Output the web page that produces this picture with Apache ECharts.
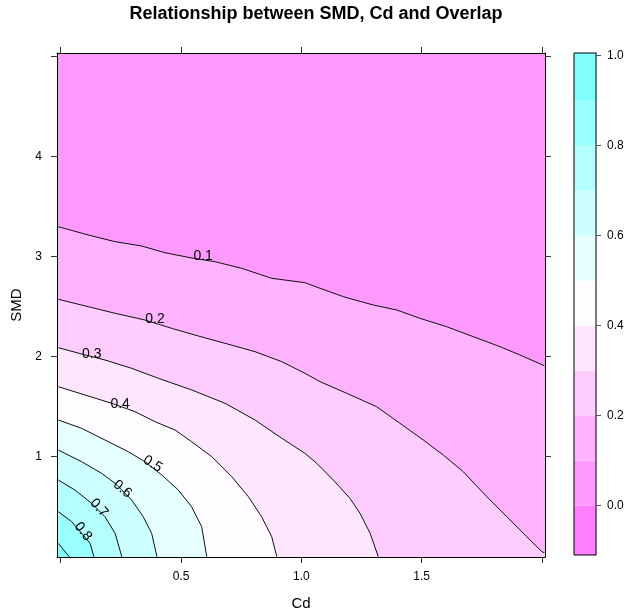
<!DOCTYPE html>
<html><head><meta charset="utf-8">
<script src="https://cdn.jsdelivr.net/npm/echarts@6/dist/echarts.min.js"></script>
<style>html,body{margin:0;padding:0;background:#fff}#c{width:625px;height:615px}</style>
</head><body><div id="c"></div>
<script>
// ---- data ----
const levels = [0.1, 0.2, 0.3, 0.4, 0.5, 0.6, 0.7, 0.8, 0.9];
const levelLabels = ['0.1', '0.2', '0.3', '0.4', '0.5', '0.6', '0.7', '0.8'];
// contour lines as [Cd, SMD] points
const contour01 = [[-0.01,3.30],[0.115,3.217],[0.226,3.15],[0.337,3.107],[0.433,3.04],[0.551,2.984],[0.641,2.95],[0.752,2.884],[0.877,2.784],[1.015,2.74],[1.078,2.684],[1.175,2.60],[1.299,2.517],[1.397,2.467],[1.493,2.384],[1.604,2.30],[1.715,2.20],[1.826,2.10],[1.909,2.017],[2.01,1.91]];
const contour02 = [[-0.01,2.574],[0.115,2.50],[0.226,2.434],[0.35,2.367],[0.461,2.284],[0.572,2.207],[0.683,2.134],[0.808,2.05],[0.919,1.95],[1.015,1.834],[1.078,1.75],[1.189,1.634],[1.313,1.50],[1.41,1.334],[1.507,1.167],[1.59,1.017],[1.673,0.85],[1.771,0.60],[1.854,0.40],[1.937,0.20],[2.0,0.05],[2.01,0.04]];
const contour03 = [[-0.01,2.09],[0.087,2.027],[0.184,1.967],[0.295,1.884],[0.406,1.784],[0.545,1.667],[0.683,1.534],[0.808,1.367],[0.919,1.184],[1.015,1.034],[1.064,0.934],[1.133,0.767],[1.202,0.584],[1.244,0.434],[1.286,0.234],[1.32,0]];
const contour04 = [[-0.01,1.70],[0.101,1.617],[0.212,1.534],[0.309,1.45],[0.392,1.35],[0.475,1.267],[0.544,1.15],[0.628,1.00],[0.711,0.80],[0.78,0.60],[0.835,0.40],[0.877,0.20],[0.898,0]];
const contour05 = [[-0.01,1.367],[0.087,1.284],[0.184,1.167],[0.281,1.05],[0.35,0.95],[0.42,0.817],[0.489,0.667],[0.544,0.50],[0.586,0.30],[0.607,0]];
const contour06 = [[-0.01,1.067],[0.087,0.95],[0.17,0.834],[0.226,0.734],[0.295,0.567],[0.343,0.40],[0.378,0.234],[0.40,0]];
const contour07 = [[-0.01,0.767],[0.059,0.667],[0.129,0.534],[0.184,0.40],[0.226,0.234],[0.254,0]];
const contour08 = [[-0.01,0.45],[0.046,0.35],[0.087,0.234],[0.122,0.134],[0.138,0]];
const contour09 = [[-0.01,0.134],[0.035,0]];
const contours = [contour01, contour02, contour03, contour04, contour05, contour06, contour07, contour08, contour09];
// contour label centres [Cd, SMD] and angle (degrees)
const labelPos = [[0.592,3.007],[0.392,2.377],[0.129,2.027],[0.247,1.527],[0.382,0.927],[0.257,0.677],[0.159,0.487],[0.093,0.252]];
const labelAngle = [0, 0, 0, 0, -32, -40, -48, -52];
// colour key bands
const bandLows = [-0.1, 0.0, 0.1, 0.2, 0.3, 0.4, 0.5, 0.6, 0.7, 0.8, 0.9];
const bandColors = ['#FF80FF','#FF99FF','#FFB3FF','#FFCCFF','#FFE6FF','#FFFCFF','#E6FFFF','#CCFFFF','#B3FFFF','#99FFFF','#80FFFF'];
// ticks
const xTicks = [0, 0.5, 1.0, 1.5, 2.0];
const xTickLabels = [0.5, 1.0, 1.5];
const yTicks = [1, 2, 3, 4, 5];
const yTickLabels = [1, 2, 3, 4];
const keyTicks = [0.0, 0.2, 0.4, 0.6, 0.8, 1.0];

// ---- chart ----
const FONT = "'Liberation Sans', Arial, sans-serif";
const X_MIN = -0.0154, X_MAX = 2.0129, Y_MIN = -0.003, Y_MAX = 5.037;
const K_MIN = -0.1096, K_MAX = 1.006;

function bandColorFor(v) {
  const idx = Math.round((v + 0.1) * 10);
  return bandColors[Math.max(0, Math.min(bandColors.length - 1, idx))];
}

const chart = echarts.init(document.getElementById('c'), null, {renderer: 'canvas'});

const fillSeries = {
  type: 'custom', xAxisIndex: 0, yAxisIndex: 0, z: 1, silent: true,
  encode: {x: -1, y: -1},
  data: [[0]].concat(levels.map((l, i) => [i + 1])),
  renderItem(params, api) {
    const cs = params.coordSys;
    const L = cs.x, R = cs.x + cs.width, T = cs.y, B = cs.y + cs.height;
    const i = params.dataIndex;
    if (i === 0) {
      return {type: 'rect', shape: {x: L, y: T, width: cs.width, height: cs.height}, style: {fill: bandColorFor(0.0)}};
    }
    const c = contours[i - 1];
    const pts = c.map(p => api.coord(p));
    const poly = [[L, pts[0][1]]].concat(pts);
    const last = pts[pts.length - 1];
    if (c[c.length - 1][1] <= 0.001) {
      poly.push([last[0], B]);
    } else {
      poly.push([R, last[1]]);
      poly.push([R, B]);
    }
    poly.push([L, B]);
    return {type: 'polygon', shape: {points: poly}, style: {fill: bandColorFor(levels[i - 1])}};
  }
};

const lineSeries = contours.map(c => ({
  type: 'line', xAxisIndex: 0, yAxisIndex: 0, z: 3, silent: true,
  data: c, showSymbol: false, symbol: 'none', smooth: false,
  lineStyle: {color: '#111', width: 1}
}));

const labelSeries = {
  type: 'custom', xAxisIndex: 0, yAxisIndex: 0, z: 4, silent: true,
  data: labelPos.map((p, i) => [p[0], p[1], i]),
  renderItem(params, api) {
    const pt = api.coord([api.value(0), api.value(1)]);
    const i = api.value(2);
    return {
      type: 'text', x: pt[0], y: pt[1], rotation: labelAngle[i] * Math.PI / 180,
      style: {text: levelLabels[i], font: '14px ' + FONT, fill: '#000', align: 'center', verticalAlign: 'middle'}
    };
  }
};

const keySeries = {
  type: 'custom', xAxisIndex: 2, yAxisIndex: 2, z: 2, silent: true,
  encode: {x: -1, y: -1},
  data: bandLows.map((b, i) => [i]).concat([[bandLows.length]]),
  renderItem(params, api) {
    const cs = params.coordSys;
    const i = params.dataIndex;
    if (i === bandLows.length) {
      return {type: 'rect', shape: {x: cs.x, y: cs.y, width: cs.width, height: cs.height}, style: {fill: null, stroke: '#000', lineWidth: 1}};
    }
    const yBot = i === 0 ? cs.y + cs.height : api.coord([0, bandLows[i]])[1];
    const yTop = i === bandLows.length - 1 ? cs.y : api.coord([0, bandLows[i + 1]])[1];
    return {type: 'rect', shape: {x: cs.x, y: yTop, width: cs.width, height: yBot - yTop}, style: {fill: bandColors[i]}};
  }
};

const axisTxt = {fontSize: 12, color: '#000', fontFamily: FONT};
const tickStyle = {color: '#333', width: 1};

const option = {
  animation: false,
  backgroundColor: '#fff',
  grid: [
    {left: 57, top: 53, width: 488, height: 504, containLabel: false, outerBoundsMode: 'none'},
    {left: 574, top: 53, width: 22, height: 502, containLabel: false, outerBoundsMode: 'none'}
  ],
  xAxis: [
    {gridIndex: 0, type: 'value', position: 'bottom', min: X_MIN, max: X_MAX, z: 10,
     axisLine: {show: true, onZero: false, lineStyle: {color: '#000', width: 1}},
     axisTick: {show: true, customValues: xTicks, length: 6, lineStyle: tickStyle},
     axisLabel: Object.assign({show: true, customValues: xTickLabels, margin: 14, formatter: v => Number(v).toFixed(1)}, axisTxt),
     splitLine: {show: false}},
    {gridIndex: 0, type: 'value', position: 'top', min: X_MIN, max: X_MAX, z: 10,
     axisLine: {show: true, onZero: false, lineStyle: {color: '#000', width: 1}},
     axisTick: {show: true, customValues: xTicks, length: 6, lineStyle: tickStyle},
     axisLabel: {show: false}, splitLine: {show: false}},
    {gridIndex: 1, type: 'value', min: 0, max: 1, show: false}
  ],
  yAxis: [
    {gridIndex: 0, type: 'value', position: 'left', min: Y_MIN, max: Y_MAX, z: 10,
     axisLine: {show: true, onZero: false, lineStyle: {color: '#000', width: 1}},
     axisTick: {show: true, customValues: yTicks, length: 6, lineStyle: tickStyle},
     axisLabel: Object.assign({show: true, customValues: yTickLabels, margin: 15, formatter: v => String(Math.round(v))}, axisTxt),
     splitLine: {show: false}},
    {gridIndex: 0, type: 'value', position: 'right', min: Y_MIN, max: Y_MAX, z: 10,
     axisLine: {show: true, onZero: false, lineStyle: {color: '#000', width: 1}},
     axisTick: {show: true, customValues: yTicks, length: 6, lineStyle: tickStyle},
     axisLabel: {show: false}, splitLine: {show: false}},
    {gridIndex: 1, type: 'value', position: 'right', min: K_MIN, max: K_MAX, z: 10,
     axisLine: {show: true, onZero: false, lineStyle: {color: '#777', width: 1}},
     axisTick: {show: true, customValues: keyTicks, length: 5, lineStyle: {color: '#555', width: 1}},
     axisLabel: Object.assign({show: true, customValues: keyTicks, margin: 11, formatter: v => Number(v).toFixed(1)}, axisTxt),
     splitLine: {show: false}}
  ],
  graphic: [
    {type: 'text', x: 316, y: 14, style: {text: 'Relationship between SMD, Cd and Overlap', font: 'bold 18px ' + FONT, fill: '#000', align: 'center', verticalAlign: 'middle'}},
    {type: 'text', x: 301, y: 604, style: {text: 'Cd', font: '15px ' + FONT, fill: '#000', align: 'center', verticalAlign: 'middle'}},
    {type: 'text', x: 17, y: 305, rotation: Math.PI / 2, style: {text: 'SMD', font: '15px ' + FONT, fill: '#000', align: 'center', verticalAlign: 'middle'}}
  ],
  series: [fillSeries].concat(lineSeries, [labelSeries, keySeries])
};
chart.setOption(option);
</script>
</body></html>
